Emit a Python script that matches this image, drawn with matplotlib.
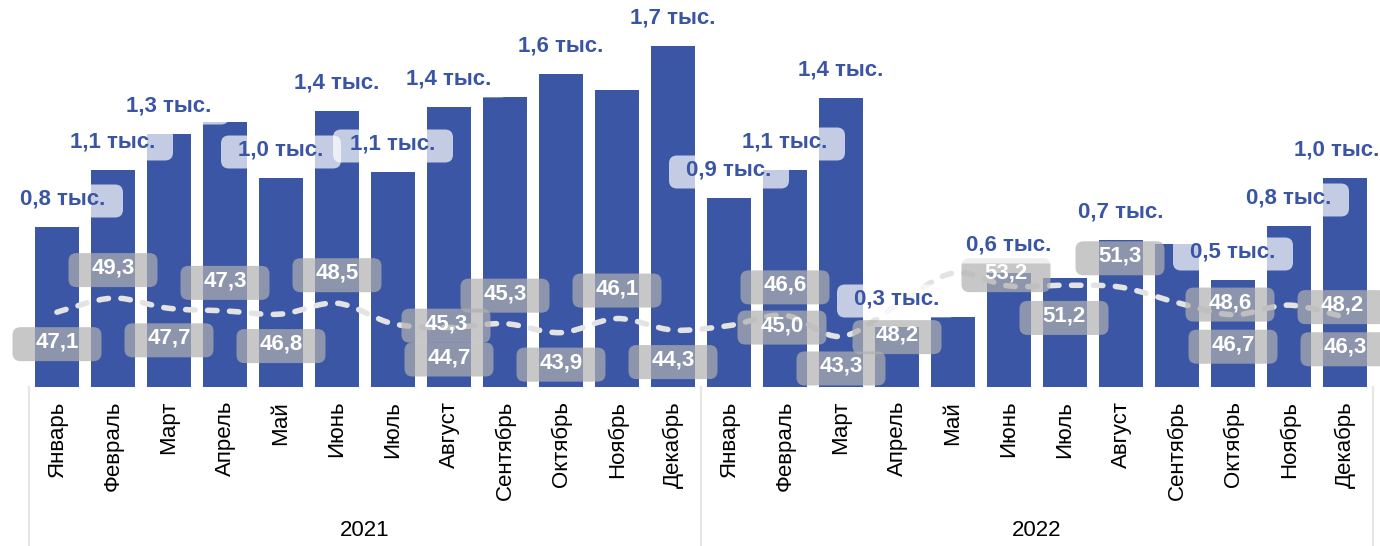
import matplotlib

matplotlib.use("Agg")
import matplotlib.pyplot as plt
import numpy as np
from matplotlib.patches import BoxStyle, PathPatch
from matplotlib.path import Path

MONTHS = ["Январь", "Февраль", "Март", "Апрель", "Май", "Июнь", "Июль",
          "Август", "Сентябрь", "Октябрь", "Ноябрь", "Декабрь"]
YEARS = ["2021", "2022"]
# bar values, thousands
COUNT_K = [0.80, 1.085, 1.265, 1.325, 1.045, 1.38, 1.075, 1.40, 1.45, 1.565, 1.485, 1.705,
           0.945, 1.085, 1.445, 0.30, 0.35, 0.57, 0.545, 0.735, 0.715, 0.535, 0.805, 1.045]
# line values
LINE_VALS = [47.1, 49.3, 47.7, 47.3, 46.8, 48.5, 45.3, 44.7, 45.3, 43.9, 46.1, 44.3,
             45.0, 46.6, 43.3, 48.2, 53.2, 51.2, 51.3, 51.0, 48.6, 46.7, 48.2, 46.3]

# which bar labels survive the overlap removal in the original
BAR_LABEL_SHOWN = [1, 1, 1, 0, 1, 1, 1, 1, 0, 1, 0, 1,
                   1, 1, 1, 1, 0, 1, 0, 1, 0, 1, 1, 1]
# where each line label sits relative to its point
LINE_LABEL_POS = ["below", "above", "below", "above", "below", "above", "right", "below",
                  "above", "below", "above", "below", "right", "above", "below", "below",
                  "right", "below-right", "above-right", None, "right", "below", "right",
                  "below"]

BAR_COLOR = "#3A56A4"
TEXT_BLUE = "#3B55A5"
LINE_COLOR = "#E3E3E3"
SEP_COLOR = "#E6E6E6"

plt.rcParams["font.family"] = ["Liberation Sans", "DejaVu Sans"]

W, H = 1380, 546
PX = 72 / 100  # px -> points at dpi 100


def fmt(v):
    return f"{v:.1f}".replace(".", ",")


def fixed_box(w, h, r=8, drop=2):
    # rounded box of a fixed pixel size, centred on the text
    rnd = BoxStyle.Round(pad=0, rounding_size=r)

    def style(x0, y0, width, height, mutation_size):
        cx, cy = x0 + width / 2, y0 + height / 2 - drop
        return rnd(cx - w / 2, cy - h / 2, w, h, 1)
    return style


def smooth_path(xs, ys):
    pts = np.column_stack([xs, ys])
    verts = [pts[0]]
    codes = [Path.MOVETO]
    n = len(pts)
    for i in range(n - 1):
        p0 = pts[max(i - 1, 0)]
        p1, p2 = pts[i], pts[i + 1]
        p3 = pts[min(i + 2, n - 1)]
        verts += [p1 + (p2 - p0) / 6, p2 - (p3 - p1) / 6, p2]
        codes += [Path.CURVE4] * 3
    return Path(verts, codes)


fig = plt.figure(figsize=(W / 100, H / 100), dpi=100)
ax = fig.add_axes([29 / W, 159 / H, 1344 / W, 387 / H])
x = np.arange(len(COUNT_K))

ax.bar(x, COUNT_K, width=0.8, color=BAR_COLOR, zorder=2)
ax.set_xlim(-0.5, len(x) - 0.5)
ax.set_ylim(0, 1.935)
for s in ax.spines.values():
    s.set_visible(False)
ax.set_yticks([])
ax.set_xticks(x, MONTHS * 2, rotation=90, fontsize=16)
ax.tick_params(axis="x", length=0, pad=10)

# group separators and year labels
trans = ax.get_xaxis_transform()
for xv in (-0.5, 11.5, len(x) - 0.5):
    ax.plot([xv, xv], [0, -159 / 387], transform=trans, color=SEP_COLOR,
            lw=1.6, clip_on=False)
for k, year in enumerate(YEARS):
    ax.text(5.5 + 12 * k, -144 / 387, year, transform=trans, ha="center",
            va="center", fontsize=16)

# line on a hidden secondary scale
ax2 = ax.twinx()
ax2.set_ylim(35.4, 95.9)
ax2.axis("off")
patch = PathPatch(smooth_path(x, LINE_VALS), fill=False, edgecolor=LINE_COLOR,
                  lw=4, linestyle=(0, (1.7, 2.25)), capstyle="round", zorder=3)
ax2.add_patch(patch)

offsets = {"above": (0, 30), "below": (0, -30), "right": (53, 0),
           "below-right": (55, -30), "above-right": (55, 29)}
for i, (v, pos) in enumerate(zip(LINE_VALS, LINE_LABEL_POS)):
    if pos is None:
        continue
    dx, dy = offsets[pos]
    ax2.annotate(fmt(v), xy=(i, v), xycoords=ax2.transData,
                 xytext=(dx * PX, dy * PX), textcoords="offset points",
                 ha="center", va="center", fontsize=16, fontweight="bold",
                 color="white", zorder=5, annotation_clip=False,
                 bbox=dict(boxstyle=fixed_box(89, 34), fc="#B0B0B0", ec="none",
                           alpha=0.7))

for i, v in enumerate(COUNT_K):
    if not BAR_LABEL_SHOWN[i]:
        continue
    dx = 6 if i == 0 else (-8 if i == len(x) - 1 else 0)
    ax2.annotate(f"{fmt(v)} тыс.", xy=(i, v), xycoords=ax.transData,
                 xytext=(dx * PX, 28 * PX), textcoords="offset points",
                 ha="center", va="center", fontsize=16, fontweight="bold",
                 color=TEXT_BLUE, zorder=6, annotation_clip=False,
                 bbox=dict(boxstyle=fixed_box(120, 33), fc="white", ec="none",
                           alpha=0.7))

fig.savefig("out.png", dpi=100)
